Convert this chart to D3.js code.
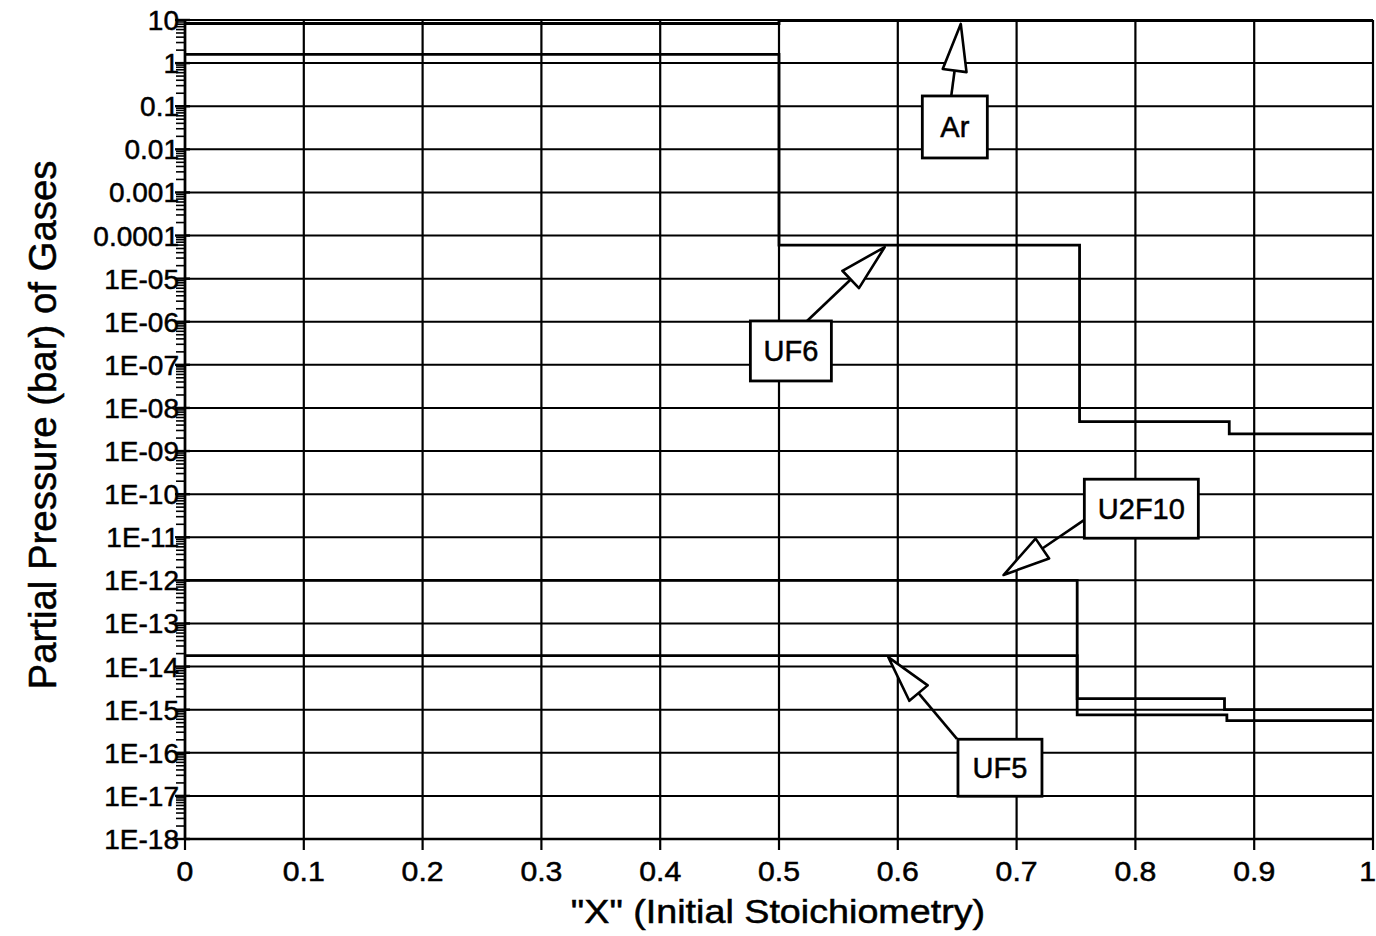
<!DOCTYPE html>
<html>
<head>
<meta charset="utf-8">
<script src="https://cdn.jsdelivr.net/npm/d3@7"></script>
<style>
  html, body { margin: 0; padding: 0; background: #fff; }
  svg { display: block; }
  text { font-family: "Liberation Sans", Arial, Helvetica, sans-serif; fill: #000; stroke: #000; stroke-width: 0.5px; }
</style>
</head>
<body>
<svg id="chart" width="1376" height="936"></svg>
<script>
// ---- data ----
const xTicks = [0, 0.1, 0.2, 0.3, 0.4, 0.5, 0.6, 0.7, 0.8, 0.9, 1];
const xTickLabels = ["0", "0.1", "0.2", "0.3", "0.4", "0.5", "0.6", "0.7", "0.8", "0.9", "1"];
const yTicks = [10, 1, 0.1, 0.01, 0.001, 0.0001, 1e-5, 1e-6, 1e-7, 1e-8, 1e-9, 1e-10, 1e-11, 1e-12, 1e-13, 1e-14, 1e-15, 1e-16, 1e-17, 1e-18];
const yTickLabels = ["10", "1", "0.1", "0.01", "0.001", "0.0001", "1E-05", "1E-06", "1E-07", "1E-08", "1E-09", "1E-10", "1E-11", "1E-12", "1E-13", "1E-14", "1E-15", "1E-16", "1E-17", "1E-18"];

// step series: value holds from x[i] to x[i+1]
const arX = [0, 0.5, 1];
const arP = [8.3, 9.7, 9.7];
const uf6X = [0, 0.5, 0.753, 0.879, 1];
const uf6P = [1.6, 6.0e-5, 4.8e-9, 2.5e-9, 2.5e-9];
const u2f10X = [0, 0.751, 0.877, 1];
const u2f10P = [1.0e-12, 7.6e-16, 5.6e-16, 5.6e-16];
const uf5X = [0, 0.751, 0.875, 1];
const uf5P = [1.8e-14, 1.8e-15, 1.0e-15, 1.0e-15];

// annotation callouts (data units): label, box centre, arrow tail, arrow tip
const annLabels = ["Ar", "UF6", "U2F10", "UF5"];
const annBoxX = [0.648, 0.510, 0.805, 0.686];
const annBoxY = [0.033, 2.1e-7, 4.6e-11, 4.5e-17];
const annTailX = [0.645, 0.5236, 0.7567, 0.6498];
const annTailY = [0.173, 1.04e-6, 2.5e-11, 2.1e-16];
const annTipX = [0.653, 0.589, 0.689, 0.592];
const annTipY = [8.1, 5.4e-5, 1.33e-12, 1.66e-14];

// ---- layout ----
const svg = d3.select("#chart");
const x = d3.scaleLinear().domain([0, 1]).range([185, 1373]);
const y = d3.scaleLog().domain([1e-18, 10]).range([839, 20]);

// gridlines
const g = svg.append("g");
g.selectAll("line.hg").data(yTicks).join("line")
  .attr("x1", x(0)).attr("x2", x(1))
  .attr("y1", d => y(d)).attr("y2", d => y(d))
  .attr("stroke", "#000").attr("stroke-width", 2);
g.selectAll("line.vg").data(xTicks).join("line")
  .attr("x1", d => x(d)).attr("x2", d => x(d))
  .attr("y1", y(10)).attr("y2", y(1e-18))
  .attr("stroke", "#000").attr("stroke-width", 2.2);

// left axis with minor ticks
const minor = [];
for (let e = -18; e < 1; e++) for (let m = 2; m <= 9; m++) minor.push(m * Math.pow(10, e));
g.selectAll("line.mt").data(minor).join("line")
  .attr("x1", x(0) - 9).attr("x2", x(0))
  .attr("y1", d => y(d)).attr("y2", d => y(d))
  .attr("stroke", "#000").attr("stroke-width", 1.6);
g.selectAll("line.Mt").data(yTicks).join("line")
  .attr("x1", x(0) - 10).attr("x2", x(0) + 5)
  .attr("y1", d => y(d)).attr("y2", d => y(d))
  .attr("stroke", "#000").attr("stroke-width", 2.4);
g.append("line").attr("x1", x(0)).attr("x2", x(0)).attr("y1", y(10)).attr("y2", y(1e-18))
  .attr("stroke", "#000").attr("stroke-width", 2.6);
g.append("line").attr("x1", x(0)).attr("x2", x(1)).attr("y1", y(1e-18)).attr("y2", y(1e-18))
  .attr("stroke", "#000").attr("stroke-width", 2.6);

// x ticks
g.selectAll("line.xt").data(xTicks).join("line")
  .attr("x1", d => x(d)).attr("x2", d => x(d))
  .attr("y1", y(1e-18)).attr("y2", y(1e-18) + 11)
  .attr("stroke", "#000").attr("stroke-width", 2.2);

// tick labels
svg.selectAll("text.yl").data(yTicks).join("text")
  .attr("x", 179).attr("y", d => y(d) + 10)
  .attr("text-anchor", "end").attr("font-size", 28)
  .text((d, i) => yTickLabels[i]);
svg.selectAll("text.xl").data(xTicks).join("text")
  .attr("transform", (d, i) => i === xTicks.length - 1
      ? `translate(${x(d) + 3},881) scale(1.12,1)`
      : `translate(${x(d)},881) scale(1.12,1)`)
  .attr("text-anchor", (d, i) => i === xTicks.length - 1 ? "end" : "middle")
  .attr("font-size", 27)
  .text((d, i) => xTickLabels[i]);

// axis titles
svg.append("text")
  .attr("transform", `translate(778,923) scale(1.16,1)`)
  .attr("text-anchor", "middle").attr("font-size", 32.5)
  .text('"X" (Initial Stoichiometry)');
svg.append("text")
  .attr("transform", `translate(56,425) rotate(-90) scale(1.01,1)`)
  .attr("text-anchor", "middle").attr("font-size", 38)
  .text("Partial Pressure (bar) of Gases");

// series
const line = d3.line().x(d => x(d[0])).y(d => y(d[1])).curve(d3.curveStepAfter);
const series = [[arX, arP], [uf6X, uf6P], [u2f10X, u2f10P], [uf5X, uf5P]];
svg.append("g").selectAll("path").data(series).join("path")
  .attr("d", s => line(s[0].map((v, i) => [v, s[1][i]])))
  .attr("fill", "none").attr("stroke", "#000").attr("stroke-width", 2.8);

// callouts
const ann = svg.append("g");
const boxW = [65, 81, 114, 84], boxH = [62, 60, 59, 57];
annLabels.forEach((lab, i) => {
  const tx = x(annTipX[i]), ty = y(annTipY[i]);
  const sx = x(annTailX[i]), sy = y(annTailY[i]);
  const dx = tx - sx, dy = ty - sy, len = Math.hypot(dx, dy);
  const ux = dx / len, uy = dy / len;
  const L = 47, W = 12;
  const bx = tx - ux * L, by = ty - uy * L;
  ann.append("line").attr("x1", sx).attr("y1", sy).attr("x2", bx).attr("y2", by)
    .attr("stroke", "#000").attr("stroke-width", 2.6);
  ann.append("path")
    .attr("d", `M${tx},${ty}L${bx - uy * W},${by + ux * W}L${bx + uy * W},${by - ux * W}Z`)
    .attr("fill", "#fff").attr("stroke", "#000").attr("stroke-width", 2.6).attr("stroke-linejoin", "round");
  const cx = x(annBoxX[i]), cy = y(annBoxY[i]);
  ann.append("rect").attr("x", cx - boxW[i] / 2).attr("y", cy - boxH[i] / 2)
    .attr("width", boxW[i]).attr("height", boxH[i])
    .attr("fill", "#fff").attr("stroke", "#000").attr("stroke-width", 2.8);
  ann.append("text").attr("x", cx).attr("y", cy + 10.5).attr("text-anchor", "middle")
    .attr("font-size", 29).text(lab);
});
</script>
</body>
</html>
